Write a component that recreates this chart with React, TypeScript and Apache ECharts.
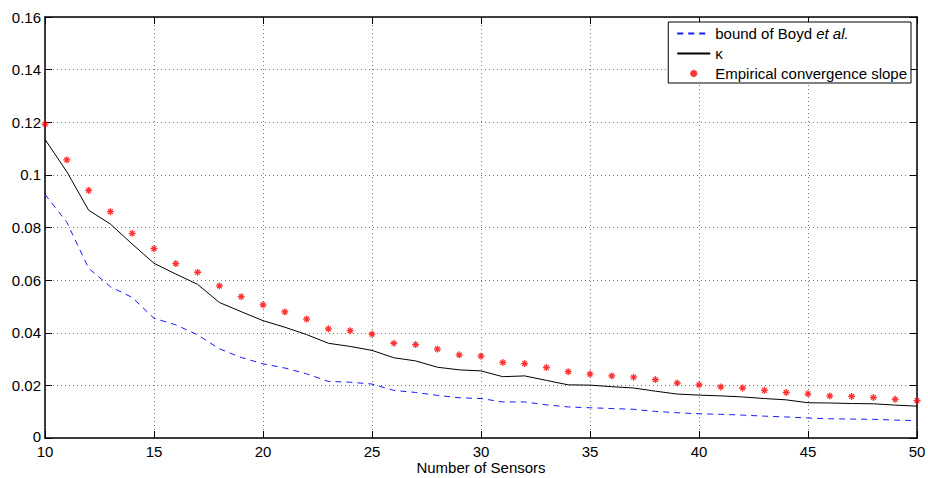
import React, { useEffect, useRef } from "react";
import * as echarts from "echarts";

const sensors = [10, 11, 12, 13, 14, 15, 16, 17, 18, 19, 20, 21, 22, 23, 24, 25, 26, 27, 28, 29, 30, 31, 32, 33, 34, 35, 36, 37, 38, 39, 40, 41, 42, 43, 44, 45, 46, 47, 48, 49, 50];

const boydBound = [0.0926, 0.082, 0.0645, 0.0575, 0.0534, 0.0455, 0.043, 0.0392, 0.0339, 0.0306, 0.0282, 0.0266, 0.0244, 0.0215, 0.0212, 0.0205, 0.0181, 0.0173, 0.0162, 0.0153, 0.015, 0.0137, 0.0137, 0.0126, 0.0118, 0.0115, 0.0112, 0.0109, 0.0101, 0.0096, 0.0092, 0.009, 0.0087, 0.0083, 0.008, 0.0076, 0.0073, 0.0072, 0.0071, 0.0068, 0.0066];

const kappa = [0.1135, 0.1012, 0.0866, 0.0813, 0.0737, 0.0664, 0.0623, 0.0584, 0.0515, 0.048, 0.0446, 0.0421, 0.0393, 0.036, 0.0348, 0.0333, 0.0305, 0.0293, 0.0269, 0.0259, 0.0255, 0.0233, 0.0236, 0.0219, 0.0202, 0.0201, 0.0195, 0.019, 0.0178, 0.0167, 0.0163, 0.016, 0.0156, 0.015, 0.0145, 0.0134, 0.0133, 0.0131, 0.013, 0.0125, 0.0121];

const empirical = [0.1193, 0.1057, 0.0941, 0.086, 0.0778, 0.072, 0.0663, 0.063, 0.0578, 0.0537, 0.0506, 0.0479, 0.0452, 0.0415, 0.0408, 0.0395, 0.036, 0.0355, 0.0338, 0.0316, 0.0311, 0.0287, 0.0283, 0.0268, 0.0252, 0.0243, 0.0236, 0.0231, 0.0222, 0.0209, 0.0202, 0.0194, 0.019, 0.0181, 0.0173, 0.0168, 0.016, 0.0158, 0.0154, 0.0147, 0.0142];

const seriesNames = ["bound of Boyd et al.", "\u03ba", "Empirical convergence slope"];
const xLabel = "Number of Sensors";

const FONT = "'Liberation Sans', Arial, Helvetica, sans-serif";
const STAR = "path://M5 0L5 10M0 5L10 5M1.6 1.6L8.4 8.4M1.6 8.4L8.4 1.6";
const STAR_LEGEND = "path://M-3 -3M13 13M5 0L5 10M0 5L10 5M1.6 1.6L8.4 8.4M1.6 8.4L8.4 1.6";

export default function App() {
  const ref = useRef<HTMLDivElement>(null);
  useEffect(() => {
    if (!ref.current) return;
    const chart = echarts.init(ref.current, null, { renderer: "svg" });
    const pair = (ys: number[]) => sensors.map((x, i) => [x, ys[i]]);
    const grid = { left: 45, right: 11, top: 17, bottom: 40, containLabel: false, outerBoundsMode: "none" };
    const splitLine = { show: true, lineStyle: { color: "#777", type: [1, 3] as any, width: 1 } };
    const axisLine = { show: true, onZero: false, lineStyle: { color: "#000", width: 1.5 } };
    const hiddenSym = { color: "rgba(0,0,0,0)", opacity: 0, borderWidth: 0 };
    chart.setOption({
      animation: false,
      backgroundColor: "#fff",
      textStyle: { fontFamily: FONT },
      grid,
      legend: {
        right: 17,
        top: 22,
        orient: "vertical",
        backgroundColor: "#fff",
        borderColor: "#000",
        borderWidth: 1,
        borderRadius: 0,
        padding: [4, 4, 2, 8],
        itemWidth: 33,
        itemHeight: 12,
        itemGap: 5,
        textStyle: {
          fontFamily: FONT,
          fontSize: 15,
          color: "#000",
          rich: { i: { fontStyle: "italic", fontSize: 15, fontFamily: FONT, color: "#000" } },
        },
        formatter: (name: string) => (name === seriesNames[0] ? "bound of Boyd {i|et al.}" : name),
        data: [
          { name: seriesNames[0], itemStyle: hiddenSym },
          { name: seriesNames[1], itemStyle: hiddenSym },
          { name: seriesNames[2], icon: STAR_LEGEND },
        ],
      },
      xAxis: [
        {
          type: "value",
          min: 10,
          max: 50,
          interval: 5,
          name: xLabel,
          nameLocation: "middle",
          nameGap: 22,
          nameMoveOverlap: false,
          nameTextStyle: { fontFamily: FONT, fontSize: 15, color: "#000", lineHeight: 14 },
          axisLine,
          axisTick: { show: true, inside: true, length: 7, lineStyle: { color: "#000" } },
          axisLabel: { fontFamily: FONT, fontSize: 15, lineHeight: 12, color: "#000", margin: 7 },
          splitLine,
        },
        {
          type: "value",
          position: "top",
          min: 10,
          max: 50,
          interval: 5,
          axisLine,
          axisTick: { show: true, inside: true, length: 7, lineStyle: { color: "#000" } },
          axisLabel: { show: false },
          splitLine: { show: false },
        },
      ],
      yAxis: [
        {
          type: "value",
          min: 0,
          max: 0.16,
          interval: 0.02,
          axisLine,
          axisTick: { show: true, inside: true, length: 7, lineStyle: { color: "#000" } },
          axisLabel: {
            fontFamily: FONT,
            fontSize: 15,
            lineHeight: 11,
            color: "#000",
            margin: 4,
            formatter: (v: number) => (v === 0 ? "{z|0}" : String(+v.toFixed(2))),
            rich: { z: { fontFamily: FONT, fontSize: 15, lineHeight: 11, color: "#000", padding: [0, 0, 4, 0] } },
          },
          splitLine,
        },
        {
          type: "value",
          position: "right",
          min: 0,
          max: 0.16,
          interval: 0.02,
          axisLine,
          axisTick: { show: true, inside: true, length: 7, lineStyle: { color: "#000" } },
          axisLabel: { show: false },
          splitLine: { show: false },
        },
      ],
      series: [
        {
          name: seriesNames[0],
          type: "line",
          data: pair(boydBound),
          showSymbol: false,
          symbol: "none",
          lineStyle: { color: "#1a1aff", width: 1, type: [6, 5] },
          itemStyle: { color: "#1a1aff" },
        },
        {
          name: seriesNames[1],
          type: "line",
          data: pair(kappa),
          showSymbol: false,
          symbol: "none",
          lineStyle: { color: "#000", width: 1 },
          itemStyle: { color: "#000" },
        },
        {
          name: seriesNames[2],
          type: "scatter",
          data: pair(empirical),
          symbol: STAR,
          symbolSize: 7,
          itemStyle: { color: "#ff0000", borderColor: "#ff0000", borderWidth: 1.3 },
        },
      ],
    });
    return () => chart.dispose();
  }, []);
  return (
    <div
      ref={ref}
      style={{ position: "fixed", left: 0, top: 0, width: 928, height: 478, background: "#fff" }}
    />
  );
}
